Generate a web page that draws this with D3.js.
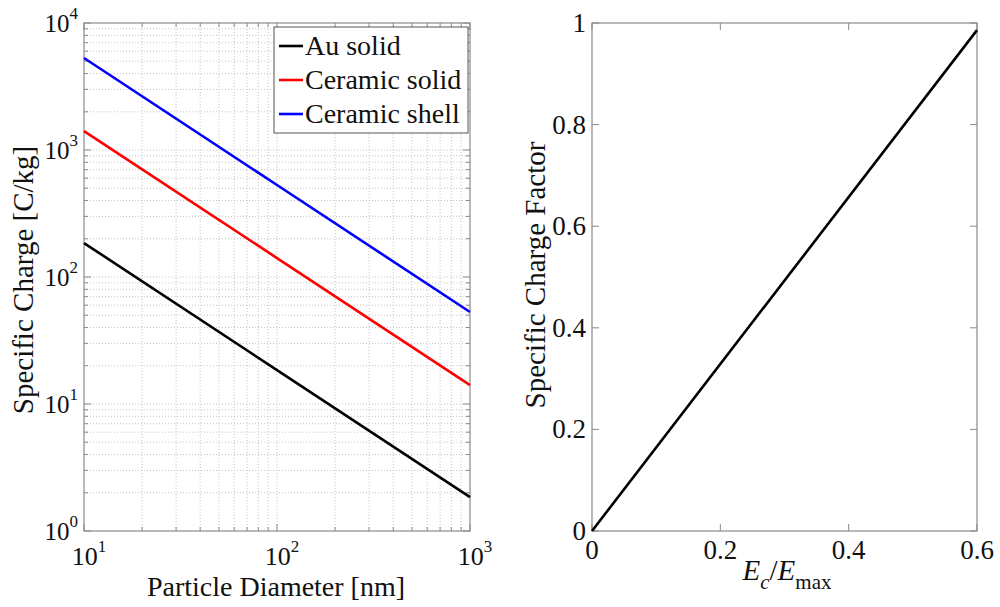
<!DOCTYPE html>
<html>
<head>
<meta charset="utf-8">
<script src="https://cdn.jsdelivr.net/npm/d3@7"></script>
<style>
  body { margin: 0; background: #fff; }
</style>
</head>
<body>
<svg id="chart" width="1000" height="607" font-family="'Liberation Serif', 'DejaVu Serif', serif"></svg>
<script>
// Specific charge vs particle diameter (log-log)
const diameters = [10, 100, 1000];           // nm
const auSolid = [185, 18.5, 1.85];           // C/kg
const ceramicSolid = [1410, 141, 14.1];
const ceramicShell = [5300, 530, 53];
const seriesNames = ["Au solid", "Ceramic solid", "Ceramic shell"];
const seriesColors = ["#000000", "#ff0000", "#0000ff"];
const xDecades = [1, 2, 3];
const yDecades = [0, 1, 2, 3, 4];

// Specific charge factor vs Ec/Emax
const ecRatio = [0, 0.6];
const chargeFactor = [0, 0.986];
const rightXTicks = [0, 0.2, 0.4, 0.6];
const rightYTicks = [0, 0.2, 0.4, 0.6, 0.8, 1];

const svg = d3.select("#chart");
const axisColor = "#8a8a8a";
const textColor = "#111";

const L = { left: 84, right: 470, top: 23, bottom: 531 };
const R = { left: 592, right: 977, top: 23, bottom: 531 };

// ---------- Left panel ----------
const xL = d3.scaleLog().domain([10, 1000]).range([L.left, L.right]);
const yL = d3.scaleLog().domain([1, 10000]).range([L.bottom, L.top]);

const gL = svg.append("g");

const xMinor = [], yMinor = [];
for (let e = 1; e < 3; e++) for (let k = 2; k <= 9; k++) xMinor.push(k * Math.pow(10, e));
for (let e = 0; e < 4; e++) for (let k = 2; k <= 9; k++) yMinor.push(k * Math.pow(10, e));
const xMajor = xDecades.map(d => Math.pow(10, d));
const yMajor = yDecades.map(d => Math.pow(10, d));

// dotted grid
const grid = gL.append("g").attr("stroke", "#c4c4c4").attr("stroke-width", 1).attr("stroke-dasharray", "1,2");
grid.selectAll("line.gx").data(xMinor.concat(xMajor.slice(1, -1))).join("line")
  .attr("x1", d => xL(d)).attr("x2", d => xL(d)).attr("y1", L.top).attr("y2", L.bottom);
grid.selectAll("line.gy").data(yMinor.concat(yMajor.slice(1, -1))).join("line")
  .attr("y1", d => yL(d)).attr("y2", d => yL(d)).attr("x1", L.left).attr("x2", L.right);

// tick marks inside the box on all sides
const ticks = gL.append("g").attr("stroke", axisColor).attr("stroke-width", 1);
function xTick(g, scale, vals, len, box) {
  vals.forEach(v => {
    const x = scale(v);
    g.append("line").attr("x1", x).attr("x2", x).attr("y1", box.bottom).attr("y2", box.bottom - len);
    g.append("line").attr("x1", x).attr("x2", x).attr("y1", box.top).attr("y2", box.top + len);
  });
}
function yTick(g, scale, vals, len, box) {
  vals.forEach(v => {
    const y = scale(v);
    g.append("line").attr("y1", y).attr("y2", y).attr("x1", box.left).attr("x2", box.left + len);
    g.append("line").attr("y1", y).attr("y2", y).attr("x1", box.right).attr("x2", box.right - len);
  });
}
xTick(ticks, xL, xMajor, 7, L);
xTick(ticks, xL, xMinor, 4, L);
yTick(ticks, yL, yMajor, 7, L);
yTick(ticks, yL, yMinor, 4, L);

gL.append("rect").attr("x", L.left).attr("y", L.top)
  .attr("width", L.right - L.left).attr("height", L.bottom - L.top)
  .attr("fill", "none").attr("stroke", axisColor).attr("stroke-width", 1.2);

// series lines
const line = d3.line().x(d => xL(d[0])).y(d => yL(d[1]));
[auSolid, ceramicSolid, ceramicShell].forEach((vals, i) => {
  gL.append("path")
    .datum(diameters.map((d, j) => [d, vals[j]]))
    .attr("d", line).attr("fill", "none")
    .attr("stroke", seriesColors[i]).attr("stroke-width", 2.6);
});

// power-of-ten labels
function powLabel(g, x, y, exp, anchor, size) {
  const t = g.append("text").attr("x", x).attr("y", y).attr("font-size", size)
    .attr("text-anchor", anchor).attr("fill", textColor);
  t.append("tspan").text("10");
  t.append("tspan").attr("dy", -13).attr("font-size", 17).text(exp);
}
xDecades.forEach(e => powLabel(gL, xL(Math.pow(10, e)) + 5, L.bottom + 34, e, "middle", 26));
yDecades.forEach(e => powLabel(gL, L.left - 6, yL(Math.pow(10, e)) + 9, e, "end", 25));

gL.append("text").attr("x", (L.left + L.right) / 2 - 1).attr("y", 596).attr("fill", textColor)
  .attr("text-anchor", "middle").attr("font-size", 28).text("Particle Diameter [nm]");
gL.append("text").attr("transform", "translate(33,280) rotate(-90)")
  .attr("fill", textColor).attr("text-anchor", "middle").attr("font-size", 29).text("Specific Charge [C/kg]");

// legend
const lg = gL.append("g");
lg.append("rect").attr("x", 274).attr("y", 27).attr("width", 194).attr("height", 106)
  .attr("fill", "#fff").attr("stroke", "#555").attr("stroke-width", 1);
seriesNames.forEach((name, i) => {
  const cy = 46 + i * 34;
  lg.append("line").attr("x1", 279).attr("x2", 303).attr("y1", cy).attr("y2", cy)
    .attr("stroke", seriesColors[i]).attr("stroke-width", 2.6);
  lg.append("text").attr("x", 305).attr("y", cy + 9).attr("font-size", 28)
    .attr("fill", textColor).text(name);
});

// ---------- Right panel ----------
const xR = d3.scaleLinear().domain([0, 0.6]).range([R.left, R.right]);
const yR = d3.scaleLinear().domain([0, 1]).range([R.bottom, R.top]);
const gR = svg.append("g");

const ticksR = gR.append("g").attr("stroke", axisColor).attr("stroke-width", 1);
xTick(ticksR, xR, rightXTicks, 7, R);
yTick(ticksR, yR, rightYTicks, 7, R);
gR.append("rect").attr("x", R.left).attr("y", R.top)
  .attr("width", R.right - R.left).attr("height", R.bottom - R.top)
  .attr("fill", "none").attr("stroke", axisColor).attr("stroke-width", 1.2);

gR.append("path")
  .datum(ecRatio.map((d, i) => [d, chargeFactor[i]]))
  .attr("d", d3.line().x(d => xR(d[0])).y(d => yR(d[1])))
  .attr("fill", "none").attr("stroke", "#000").attr("stroke-width", 2.6);

rightXTicks.forEach(v => gR.append("text").attr("x", xR(v)).attr("y", R.bottom + 28)
  .attr("fill", textColor).attr("text-anchor", "middle").attr("font-size", 27).text(d3.format("~g")(v)));
rightYTicks.forEach(v => gR.append("text").attr("x", R.left - 6).attr("y", yR(v) + 9)
  .attr("fill", textColor).attr("text-anchor", "end").attr("font-size", 27).text(d3.format("~g")(v)));

const xl = gR.append("text").attr("x", 787).attr("y", 580)
  .attr("fill", textColor).attr("text-anchor", "middle").attr("font-size", 29);
xl.append("tspan").attr("font-style", "italic").text("E");
xl.append("tspan").attr("font-style", "italic").attr("font-size", 21).attr("dy", 9).text("c");
xl.append("tspan").attr("dy", -9).text("/");
xl.append("tspan").attr("font-style", "italic").text("E");
xl.append("tspan").attr("font-size", 21).attr("dy", 9).text("max");

gR.append("text").attr("transform", "translate(545,275) rotate(-90)")
  .attr("fill", textColor).attr("text-anchor", "middle").attr("font-size", 29).text("Specific Charge Factor");
</script>
</body>
</html>
